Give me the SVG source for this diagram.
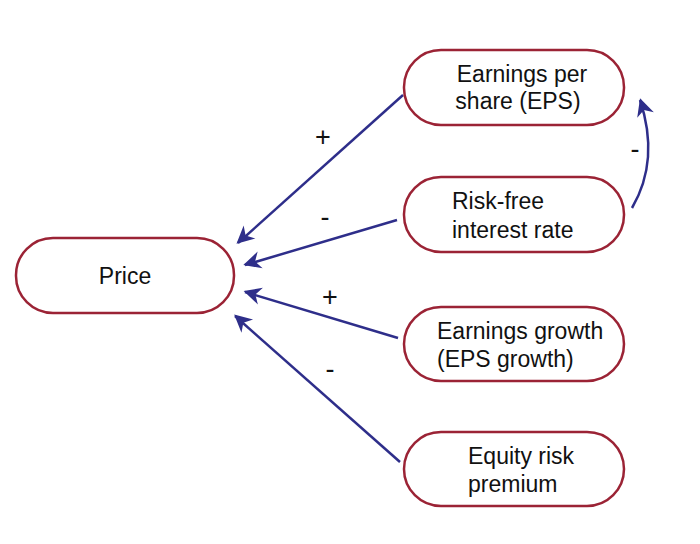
<svg xmlns="http://www.w3.org/2000/svg" width="700" height="544" viewBox="0 0 700 544">
<style>
.n{fill:#fff;stroke:#9b2335;stroke-width:2.5}
.t{font-family:"Liberation Sans",Arial,sans-serif;font-size:23px;fill:#111}
.c{stroke:#2e2e8a;stroke-width:2.5;fill:none;marker-end:url(#a)}
.s{font-family:"Liberation Sans",Arial,sans-serif;font-size:27px;fill:#111;text-anchor:middle}
</style>
<defs><marker id="a" viewBox="0 0 10 10" refX="9" refY="5" markerWidth="7" markerHeight="7" orient="auto" markerUnits="userSpaceOnUse" style="overflow:visible"><path d="M0,0 L10,5 L0,10 L3,5 Z" fill="#2e2e8a" transform="scale(2.5) translate(-5.5,-2.7)"/></marker></defs>
<rect width="700" height="544" fill="#fff"/>
<g id="connectors">
<path class="c" d="M403,95 L238,243"/>
<path class="c" d="M397,220 L245,265"/>
<path class="c" d="M398,338 L245,292"/>
<path class="c" d="M400,462 L235,316"/>
<path class="c" d="M632,208 Q660,160 640,100"/>
<text class="s" x="323" y="146">+</text>
<text class="s" x="325" y="226">-</text>
<text class="s" x="330" y="306">+</text>
<text class="s" x="330" y="378">-</text>
<text class="s" x="635" y="158">-</text>
</g>
<g id="price"><rect class="n" x="16" y="238" width="218" height="75" rx="37"/><text class="t" x="125" y="284" text-anchor="middle">Price</text></g>
<g id="eps"><rect class="n" x="404" y="50" width="220" height="75" rx="37"/><text class="t" x="522" y="82" text-anchor="middle">Earnings per</text><text class="t" x="518" y="109" text-anchor="middle">share (EPS)</text></g>
<g id="rf"><rect class="n" x="404" y="177" width="220" height="75" rx="37"/><text class="t" x="452" y="209">Risk-free</text><text class="t" x="452" y="238">interest rate</text></g>
<g id="eg"><rect class="n" x="404" y="307" width="220" height="74" rx="37"/><text class="t" x="437" y="339">Earnings growth</text><text class="t" x="437" y="367">(EPS growth)</text></g>
<g id="erp"><rect class="n" x="404" y="432" width="220" height="74" rx="37"/><text class="t" x="468" y="464">Equity risk</text><text class="t" x="468" y="492">premium</text></g>
</svg>
